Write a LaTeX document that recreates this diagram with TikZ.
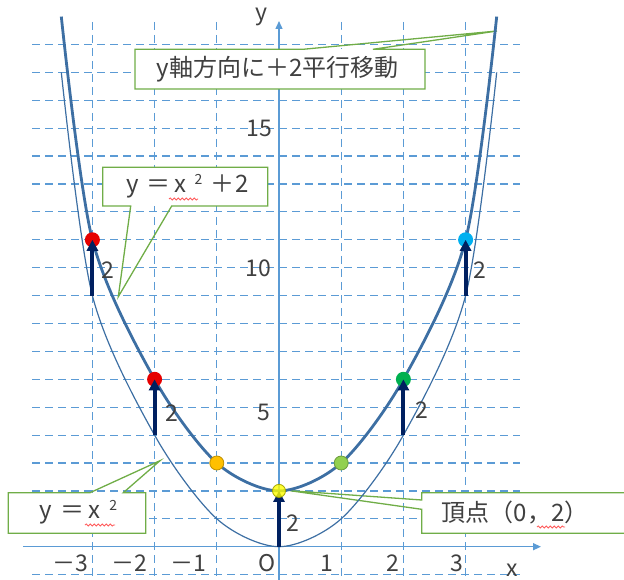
\documentclass[tikz,border=0pt]{standalone}
\usepackage{fontspec}
\setmainfont{Noto Sans CJK JP}
\usetikzlibrary{arrows.meta,calc,decorations.pathmorphing}
\definecolor{gridc}{HTML}{5B9BD5}
\definecolor{curvec}{HTML}{3D6FA3}
\definecolor{navyc}{HTML}{002060}
\definecolor{callc}{HTML}{70AD47}
\definecolor{txtc}{HTML}{404040}
\definecolor{redc}{HTML}{E60000}
\definecolor{orangec}{HTML}{FFC000}
\definecolor{yellowc}{HTML}{FFFF00}
\definecolor{lgreenc}{HTML}{92D050}
\definecolor{greenc}{HTML}{00B050}
\definecolor{bluec}{HTML}{00B0F0}
\definecolor{wavec}{HTML}{FF5A5A}
\begin{document}
\begin{tikzpicture}[x=1pt,y=-1pt,
  gridline/.style={gridc, line width=1.2pt, dash pattern=on 8pt off 5pt},
  axisline/.style={gridc, line width=1.4pt, -{Triangle[length=8pt,width=7pt]}},
  thincurve/.style={curvec, line width=1.2pt},
  thickcurve/.style={curvec, line width=2.8pt},
  uparrow/.style={navyc, line width=4pt, -{Triangle[length=11pt,width=11pt]}},
  dot/.style={circle, inner sep=0pt, minimum size=15pt},
  lbl/.style={text=txtc, font=\fontsize{23}{27}\selectfont, inner sep=0pt},
  calltext/.style={text=txtc, font=\fontsize{24}{28}\selectfont, inner sep=0pt},
  callbox/.style={fill=white, draw=none, inner sep=0pt, outer sep=0pt, anchor=north west},
  callline/.style={callc, line width=1.3pt, line join=miter},
  wavy/.style={wavec, line width=0.8pt, decorate, decoration={snake, amplitude=1.1pt, segment length=4pt}}]
\useasboundingbox (0,0) rectangle (624,580);
\clip (0,0) rectangle (624,580);
% grid
\foreach \k in {-1,1,2,3,...,18} \draw[gridline] (32,{546.7-27.9*\k}) -- (520,{546.7-27.9*\k});
\foreach \k in {-3,-2,-1,1,2,3} \draw[gridline] ({279+62.2*\k},22) -- ({279+62.2*\k},580);
% axes
\coordinate (xs) at (23,546.7);
\coordinate (xe) at (541,546.7);
\coordinate (ys) at (279,580);
\coordinate (ye) at (279,21);
\draw[axisline] (xs) -- (xe);
\draw[axisline] (ys) -- (ye);
% callout boxes
\node[callbox, minimum width=290pt, minimum height=39.7pt] (b1) at (135,49.3) {};
\coordinate (t1) at (497,31);
\draw[callline] (b1.north west) -- ($(b1.north west)+(168,0)$) -- (t1) -- ($(b1.north west)+(238,0)$) -- (b1.north east) -- (b1.south east) -- (b1.south west) -- cycle;
\node[callbox, minimum width=165pt, minimum height=38.7pt] (b2) at (102.7,167.3) {};
\coordinate (t2) at (118.3,296.7);
\draw[callline] (b2.south west) -- ($(b2.south west)+(28,0)$) -- (t2) -- ($(b2.south west)+(69,0)$) -- (b2.south east) -- (b2.north east) -- (b2.north west) -- cycle;
\node[callbox, minimum width=137.4pt, minimum height=40.6pt] (b3) at (8.3,492.7) {};
\coordinate (t3) at (160,460.7);
\draw[callline] (b3.north west) -- ($(b3.north west)+(81.7,0)$) -- (t3) -- ($(b3.north west)+(115,0)$) -- (b3.north east) -- (b3.south east) -- (b3.south west) -- cycle;
\node[callbox, minimum width=220pt, minimum height=40.6pt] (b4) at (421.7,492.7) {};
\coordinate (t4) at (290,490.7);
\draw[callline] (b4.north west) -- (b4.north east) -- (b4.south east) -- (b4.south west) -- ($(b4.north west)+(0,16.6)$) -- (t4) -- ($(b4.north west)+(0,7.3)$) -- cycle;
% curves
\begin{scope}[shift={(279,546.7)},x=62.2pt,y=27.9pt]
\draw[thincurve] plot[smooth,tension=0.5] coordinates {(-3.5,17) (-3,9) (-2,4) (-1,1) (0,0) (1,1) (2,4) (3,9) (3.5,17)};
\draw[thickcurve] plot[smooth,tension=0.5] coordinates {(-3.5,19) (-3,11) (-2,6) (-1,3) (0,2) (1,3) (2,6) (3,11) (3.5,19)};
\coordinate (a1) at (-3,9);  \coordinate (p1) at (-3,11);
\coordinate (a2) at (-2,4);  \coordinate (p2) at (-2,6);
\coordinate (p3) at (-1,3);
\coordinate (a4) at (0,0);   \coordinate (p4) at (0,2);
\coordinate (p5) at (1,3);
\coordinate (a6) at (2,4);   \coordinate (p6) at (2,6);
\coordinate (a7) at (3,9);   \coordinate (p7) at (3,11);
\end{scope}
% dots
\node[dot, fill=redc] (d1) at (p1) {};
\node[dot, fill=redc] (d2) at (p2) {};
\node[dot, fill=orangec, draw=orangec!75!black, line width=0.8pt, minimum size=14pt] (d3) at (p3) {};
\node[dot, fill=lgreenc, draw=lgreenc!75!black, line width=0.8pt, minimum size=14pt] (d5) at (p5) {};
\node[dot, fill=greenc] (d6) at (p6) {};
\node[dot, fill=bluec] (d7) at (p7) {};
% arrows
\draw[uparrow] (a1) -- (d1.center);
\draw[uparrow] (a2) -- (d2.center);
\draw[uparrow] (a4) -- (p4);
\draw[uparrow] (a6) -- (d6.center);
\draw[uparrow] (a7) -- (d7.center);
\node[dot, fill=yellowc, draw=yellowc!65!black, line width=0.8pt, minimum size=13pt, fill opacity=0.8] (d4) at (p4) {};
% arrow labels
\node[lbl] (l1) at (108,270) {2};
\node[lbl] (l2) at (172,413) {2};
\node[lbl] (l4) at (293,523) {2};
\node[lbl] (l6) at (422,410) {2};
\node[lbl] (l7) at (480,270) {2};
% axis labels
\node[lbl] (ylab) at (261,17) {y};
\node[lbl] (xlab) at (512,570) {x};
\node[lbl] (y15) at (259,128) {15};
\node[lbl] (y10) at (258,268) {10};
\node[lbl] (y5) at (264,412) {5};
\node[lbl] (xm3) at (70.5,563) {－3};
\node[lbl] (xm2) at (129,563) {－2};
\node[lbl] (xm1) at (188,563) {－1};
\node[lbl] (x0) at (267,563) {O};
\node[lbl] (x1) at (327,563) {1};
\node[lbl] (x2) at (393,563) {2};
\node[lbl] (x3) at (457,563) {3};
% callout texts
\node[calltext] (c1) at (277.5,69) {y軸方向に＋2平行移動};
\node[calltext] (c2) at (187.5,186.5) {y\hspace{8pt}＝\hspace{4pt}x\hspace{8pt}\raisebox{8pt}{\fontsize{14}{14}\selectfont 2}\hspace{8pt}＋\hspace{1pt}2};
\node[calltext] (c3) at (78.5,512) {y\hspace{8pt}＝\hspace{4pt}x\hspace{9pt}\raisebox{8pt}{\fontsize{14}{14}\selectfont 2}};
\node[calltext] (c4) at (515,513) {頂点（0，2）};
% spelling marks
\draw[wavy] (169,199) -- (198,199);
\draw[wavy] (85,525) -- (115,525);
\draw[wavy] (537,527) -- (565,527);
\end{tikzpicture}
\end{document}
